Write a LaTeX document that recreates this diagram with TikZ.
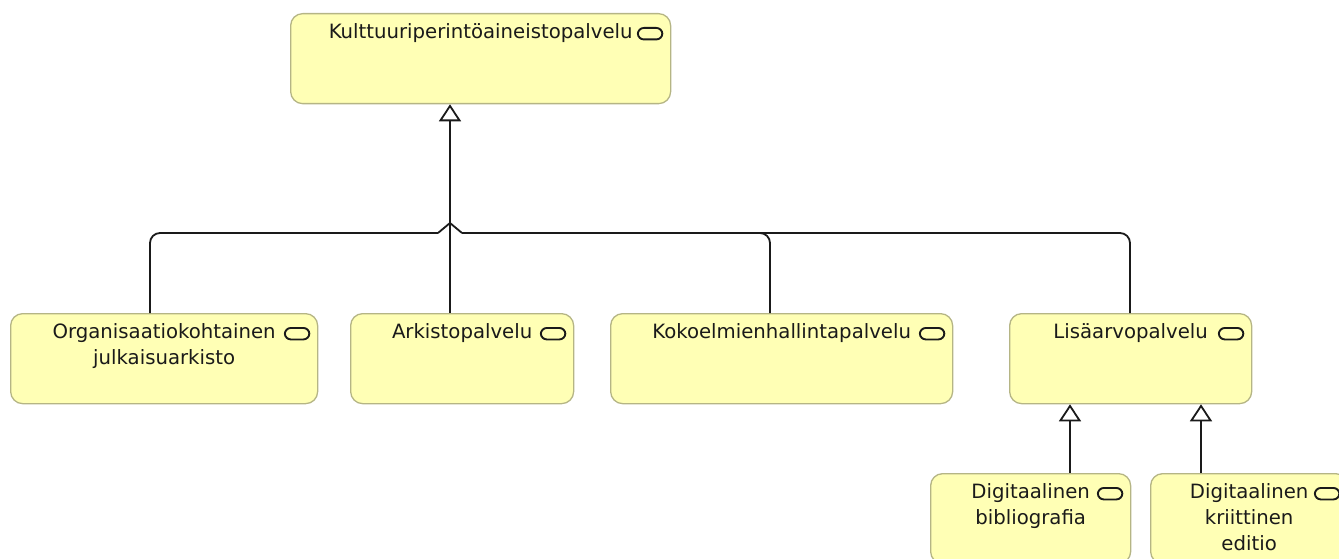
\documentclass[tikz,border=0pt]{standalone}
\usepackage{fontspec}
\setmainfont{DejaVu Sans}
\usetikzlibrary{arrows.meta}
\definecolor{svcfill}{HTML}{FFFFB5}
\definecolor{svcdraw}{HTML}{B5B585}
\definecolor{ink}{HTML}{1A1A1A}
\newcommand\lblstrut{\rule{0pt}{16pt}}
\tikzset{
 svc/.style={draw=svcdraw, fill=svcfill, line width=1.3pt, rounded corners=12pt, minimum height=90pt, anchor=north west, inner sep=0pt},
 svcicon/.style={draw=ink, line width=1.9pt, rounded corners=6pt, minimum width=24.5pt, minimum height=11.5pt, inner sep=0pt, anchor=north east, xshift=-8pt, yshift=-14pt},
 lbl/.style={font=\fontsize{19.7}{26}\selectfont, align=center, inner sep=0pt, anchor=north, yshift=-9.7pt, text=ink},
 rel/.style={draw=ink, line width=1.8pt, line join=round},
 gen/.style={rel, -{Triangle[open, length=17pt, width=22pt, fill=white]}},
}
\begin{document}
\begin{tikzpicture}[x=1pt,y=-1pt]
\useasboundingbox (0,0) rectangle (1339,559);
\clip (0,0) rectangle (1339,559);
% boxes
\node[svc, minimum width=380pt] (top) at (290,13) {};
\node[svc, minimum width=307pt] (org) at (10,313) {};
\node[svc, minimum width=223pt] (ark) at (350,313) {};
\node[svc, minimum width=342pt] (kok) at (610,313) {};
\node[svc, minimum width=242pt] (lis) at (1009,313) {};
\node[svc, minimum width=200pt] (bib) at (930,473) {};
\node[svc, minimum width=197pt] (krit) at (1150,473) {};
% icons
\node[svcicon] (topi) at (top.north east) {};
\node[svcicon] (orgi) at (org.north east) {};
\node[svcicon] (arki) at (ark.north east) {};
\node[svcicon] (koki) at (kok.north east) {};
\node[svcicon] (lisi) at (lis.north east) {};
\node[svcicon] (bibi) at (bib.north east) {};
\node[svcicon] (kriti) at (krit.north east) {};
% labels
\node[lbl] (topt) at (top.north) {\lblstrut Kulttuuriperintöaineistopalvelu};
\node[lbl] (orgt) at (org.north) {\lblstrut Organisaatiokohtainen\\julkaisuarkisto};
\node[lbl] (arkt) at (ark.north) {\lblstrut Arkistopalvelu};
\node[lbl] (kokt) at (kok.north) {\lblstrut Kokoelmienhallintapalvelu};
\node[lbl] (list) at (lis.north) {\lblstrut Lisäarvopalvelu};
\node[lbl] (bibt) at (bib.north) {\lblstrut Digitaalinen\\bibliografia};
\node[lbl] (kritt) at (krit.north) {\lblstrut Digitaalinen\\kriittinen\\editio};
% connectors
\coordinate (jn) at (450,233);
\coordinate (hop) at (450,223);
\coordinate (hl) at (438,233);
\coordinate (hr) at (462,233);
\coordinate (cOrg) at (150,233);
\coordinate (cKok) at (770,233);
\coordinate (cLis) at (1130,233);
\draw[gen] (jn |- ark.north) -- (jn |- top.south);
\draw[rel, rounded corners=10pt] (cOrg |- org.north) -- (cOrg) -- (hl);
\draw[rel, rounded corners=10pt] (cKok |- kok.north) -- (cKok) -- (hr);
\draw[rel, rounded corners=10pt] (cLis |- lis.north) -- (cLis) -- (hr);
\draw[rel] (hl) -- (hop) -- (hr);
\coordinate (b1) at (1070,440);
\coordinate (b2) at (1201,440);
\draw[gen] (b1 |- bib.north) -- (b1 |- lis.south);
\draw[gen] (b2 |- krit.north) -- (b2 |- lis.south);
\end{tikzpicture}
\end{document}
